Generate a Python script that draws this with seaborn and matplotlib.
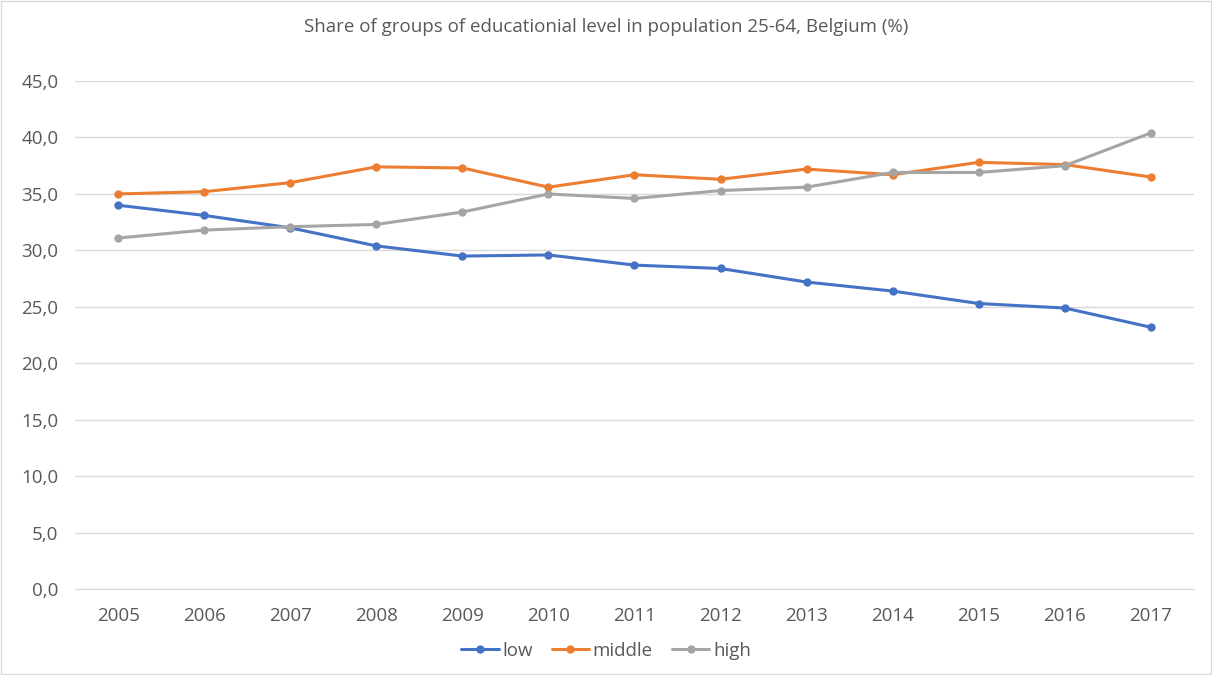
import pandas as pd
import numpy as np
import matplotlib.pyplot as plt
import seaborn as sns
from matplotlib.ticker import FuncFormatter

# data
years = [2005, 2006, 2007, 2008, 2009, 2010, 2011, 2012, 2013, 2014, 2015, 2016, 2017]
low = [34.0, 33.1, 32.0, 30.4, 29.5, 29.6, 28.7, 28.4, 27.2, 26.4, 25.3, 24.9, 23.2]
middle = [35.0, 35.2, 36.0, 37.4, 37.3, 35.6, 36.7, 36.3, 37.2, 36.7, 37.8, 37.6, 36.5]
high = [31.1, 31.8, 32.1, 32.3, 33.4, 35.0, 34.6, 35.3, 35.6, 36.9, 36.9, 37.5, 40.4]
groups = ['low', 'middle', 'high']
colors = ['#4472C4', '#ED7D31', '#A5A5A5']

df = pd.DataFrame({'year': [str(y) for y in years], 'low': low, 'middle': middle, 'high': high})
long = df.melt(id_vars='year', var_name='group', value_name='share')

sns.set_style('white')
plt.rcParams['font.family'] = ['Open Sans', 'DejaVu Sans']

fig = plt.figure(figsize=(12.12, 6.75), dpi=100)
ax = fig.add_axes([0.062, 0.127, 0.923, 0.753])

sns.lineplot(data=long, x='year', y='share', hue='group', hue_order=groups,
             palette=colors, marker='o', markersize=6, markeredgewidth=0,
             linewidth=2.2, sort=False, ax=ax)

ax.set_xlim(-0.5, len(years) - 0.5)
ax.set_ylim(0, 45)
ax.set_yticks(np.arange(0, 46, 5))
ax.yaxis.set_major_formatter(FuncFormatter(lambda v, p: f'{v:.1f}'.replace('.', ',')))
ax.grid(axis='y', color='#D9D9D9', linewidth=1)
ax.set_axisbelow(True)
for s in ['top', 'right', 'left']:
    ax.spines[s].set_visible(False)
ax.spines['bottom'].set_color('#D9D9D9')
ax.tick_params(axis='both', length=0, labelsize=13.5, labelcolor='#595959')
ax.tick_params(axis='y', pad=12)
ax.tick_params(axis='x', pad=13)
ax.set_xlabel('')
ax.set_ylabel('')

ax.get_legend().remove()
handles, labels = ax.get_legend_handles_labels()
fig.legend(handles, labels, loc='center', bbox_to_anchor=(0.5, 0.036), ncol=3,
           frameon=False, fontsize=13.5, labelcolor='#595959', handlelength=2.0,
           handletextpad=0.2, columnspacing=1.0)

fig.text(0.5, 0.96, 'Share of groups of educationial level in population 25-64, Belgium (%)',
         ha='center', va='center', fontsize=13.5, color='#595959')

fig.patches.append(plt.Rectangle((0.001, 0.001), 0.998, 0.997, transform=fig.transFigure,
                                 fill=False, edgecolor='#D9D9D9', linewidth=1))

fig.savefig('out.png', dpi=100)
